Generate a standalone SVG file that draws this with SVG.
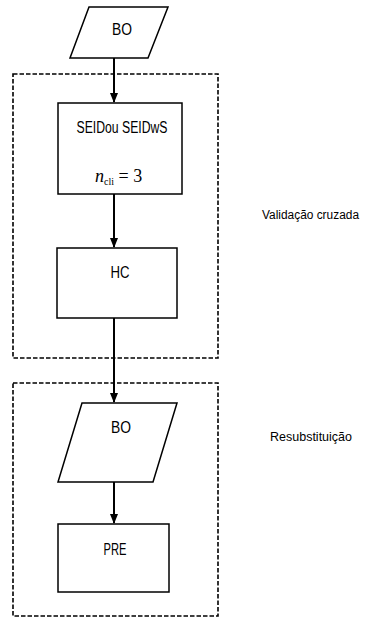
<svg xmlns="http://www.w3.org/2000/svg" width="366" height="619" viewBox="0 0 366 619">
<style>
.node{fill:#fff;stroke:#000;stroke-width:1.5}
.grp{fill:none;stroke:#000;stroke-width:1.6;stroke-dasharray:4.5 2}
.edge{stroke:#000;stroke-width:2;fill:none}
.t{font-family:"Liberation Sans",Arial,sans-serif;font-size:16px;fill:#000;text-anchor:middle}
.lbl{font-family:"Liberation Sans",Arial,sans-serif;font-size:12px;fill:#000}
.m{font-family:"Liberation Serif","Times New Roman",serif;font-size:18px;fill:#000}
</style>
<defs>
<marker id="ah" markerWidth="10" markerHeight="10" refX="9" refY="5" orient="auto" markerUnits="userSpaceOnUse">
<path d="M0,1 L10,5 L0,9 Z" fill="#000"/>
</marker>
</defs>
<g id="group-cv">
<rect class="grp" x="13" y="74" width="205" height="284"/>
<text class="lbl" x="262" y="219" textLength="97" lengthAdjust="spacingAndGlyphs">Validação cruzada</text>
</g>
<g id="group-resub">
<rect class="grp" x="13" y="383" width="205" height="233"/>
<text class="lbl" x="270" y="441" textLength="82" lengthAdjust="spacingAndGlyphs">Resubstituição</text>
</g>
<g id="connectors">
<line class="edge" x1="114" y1="58" x2="114" y2="102" marker-end="url(#ah)"/>
<line class="edge" x1="114" y1="194" x2="114" y2="247" marker-end="url(#ah)"/>
<line class="edge" x1="114" y1="318" x2="114" y2="402" marker-end="url(#ah)"/>
<line class="edge" x1="114" y1="482" x2="114" y2="523" marker-end="url(#ah)"/>
</g>
<g id="bo1">
<polygon class="node" points="89,7 168,7 148,58 70,58"/>
<text class="t" x="122" y="35" textLength="20" lengthAdjust="spacingAndGlyphs">BO</text>
</g>
<g id="seid">
<rect class="node" x="58" y="103" width="124" height="91"/>
<text class="t" x="122" y="133" textLength="91" lengthAdjust="spacingAndGlyphs">SEIDou SEIDwS</text>
<text class="m" x="95" y="182"><tspan font-style="italic">n</tspan><tspan font-size="10" dy="3">cli</tspan><tspan dy="-3"> = 3</tspan></text>
</g>
<g id="hc">
<rect class="node" x="57" y="248" width="120" height="70"/>
<text class="t" x="120" y="278" textLength="19" lengthAdjust="spacingAndGlyphs">HC</text>
</g>
<g id="bo2">
<polygon class="node" points="82,403 177,403 153,482 58,482"/>
<text class="t" x="121" y="433" textLength="20" lengthAdjust="spacingAndGlyphs">BO</text>
</g>
<g id="pre">
<rect class="node" x="58" y="524" width="111" height="68"/>
<text class="t" x="115" y="555" textLength="23" lengthAdjust="spacingAndGlyphs">PRE</text>
</g>
</svg>
